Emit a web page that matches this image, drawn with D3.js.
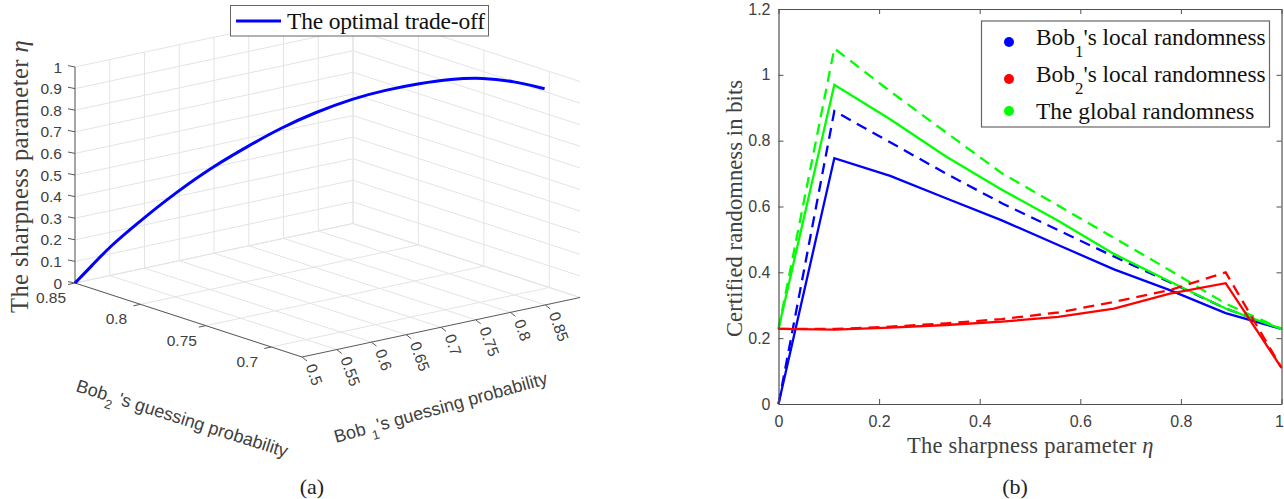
<!DOCTYPE html>
<html><head><meta charset="utf-8">
<script src="https://cdnjs.cloudflare.com/ajax/libs/d3/7.8.5/d3.min.js"></script>
<style>html,body{margin:0;padding:0;background:#fff}svg{display:block}</style>
</head><body><svg id="c" width="1284" height="499"></svg>
<script>
// Panel (a) data
const tradeEta=[0,0.064,0.133,0.242,0.348,0.451,0.547,0.627,0.709,0.788,0.838,0.883,0.926,0.972,0.99,1];
const tradeBob1=[0.5,0.5245,0.5494,0.5927,0.632,0.67,0.7047,0.729,0.755,0.78,0.801,0.8233,0.8363,0.8425,0.849,0.85];
const tradeBob2=[0.85,0.85,0.85,0.847,0.842,0.835,0.825,0.815,0.802,0.786,0.773,0.758,0.742,0.72,0.70,0.677];
const bob1Ticks=[0.5,0.55,0.6,0.65,0.7,0.75,0.8,0.85];
const bob2Ticks=[0.85,0.8,0.75,0.7];
const etaTicks=[0,0.1,0.2,0.3,0.4,0.5,0.6,0.7,0.8,0.9,1];
// Panel (b) data
const sharp=[0,0.111,0.222,0.333,0.444,0.556,0.667,0.778,0.889,1];
const bob1Solid=[0,0.747,0.693,0.625,0.558,0.483,0.409,0.346,0.276,0.228];
const bob1Dash=[0,0.89,0.795,0.70,0.61,0.528,0.448,0.37,0.29,0.228];
const bob2Solid=[0.228,0.226,0.232,0.24,0.25,0.265,0.29,0.335,0.367,0.11];
const bob2Dash=[0.228,0.228,0.235,0.245,0.258,0.278,0.31,0.346,0.40,0.11];
const globalSolid=[0.228,0.97,0.865,0.752,0.651,0.557,0.456,0.372,0.29,0.228];
const globalDash=[0.228,1.08,0.95,0.825,0.701,0.603,0.505,0.406,0.305,0.228];
const xTicksB=[0,0.2,0.4,0.6,0.8,1];
const yTicksB=[0,0.2,0.4,0.6,0.8,1,1.2];

const svg=d3.select('#c');
const SERIF='"Liberation Serif","Times New Roman",serif';
const SANS='"Liberation Sans",Arial,sans-serif';
const TXT='#404040';

// ---- Panel (a): oblique projection built from linear scales
const b1X=d3.scaleLinear().domain([0.5,0.9]).range([0,278]);
const b1Y=d3.scaleLinear().domain([0.5,0.9]).range([0,-59.5]);
const b2X=d3.scaleLinear().domain([0.85,0.6765]).range([0,227]);
const b2Y=d3.scaleLinear().domain([0.85,0.6765]).range([0,74]);
const zY=d3.scaleLinear().domain([0,1]).range([0,-216]);
const proj=(a,b,z)=>[75+b1X(a)+b2X(b),283+b1Y(a)+b2Y(b)+zY(z)];
const A0=0.5,A1=0.9,B0=0.85,B1=0.6765;
const g=svg.append('g');
const seg=(p,q,col,w)=>g.append('line').attr('x1',p[0]).attr('y1',p[1]).attr('x2',q[0]).attr('y2',q[1]).attr('stroke',col).attr('stroke-width',w||1);
const GRID='#e4e4e4';
etaTicks.forEach(z=>{seg(proj(A0,B0,z),proj(A1,B0,z),GRID);seg(proj(A1,B0,z),proj(A1,B1,z),GRID);});
bob1Ticks.concat([A1]).forEach(a=>{seg(proj(a,B0,0),proj(a,B1,0),GRID);if(a>A0)seg(proj(a,B0,0),proj(a,B0,1),GRID);});
bob2Ticks.forEach(b=>{seg(proj(A0,b,0),proj(A1,b,0),GRID);seg(proj(A1,b,0),proj(A1,b,1),GRID);});
const AX='#5a5a5a';
seg(proj(A0,B0,0),proj(A0,B0,1),'#808080',1.4);
seg(proj(A0,B0,0),proj(A0,B1,0),AX,1);
seg(proj(A0,B1,0),proj(A1,B1,0),AX,1);
etaTicks.forEach(z=>{const p=proj(A0,B0,z);seg(p,[p[0]-7,p[1]-1.4],AX,1);
  g.append('text').attr('x',62).attr('y',p[1]+5.5).attr('text-anchor','end').attr('font-family',SANS).attr('font-size',15.5).attr('fill',TXT).text(z);});
bob2Ticks.forEach(b=>{const p=proj(A0,b,0);seg(p,[p[0]-7,p[1]+1.5],AX,1);
  g.append('text').attr('x',p[0]-24).attr('y',p[1]+20).attr('text-anchor','middle').attr('font-family',SANS).attr('font-size',15.5).attr('fill',TXT).text(b);});
bob1Ticks.forEach(a=>{const p=proj(a,B1,0);seg(p,[p[0]+5,p[1]+4],AX,1);
  const t=[p[0]+8.5,p[1]+7.5];
  g.append('text').attr('transform',`translate(${t[0]},${t[1]}) rotate(70)`).attr('dy','0.35em').attr('font-family',SANS).attr('font-size',15.5).attr('fill',TXT).text(a);});
g.append('path').datum(tradeEta.map((e,i)=>proj(tradeBob1[i],tradeBob2[i],e)))
 .attr('d',d3.line().curve(d3.curveBasis)).attr('fill','none').attr('stroke','#0000ff').attr('stroke-width',3);

function sub(sel,base,s,rest,size,k){
  sel.append('tspan').text(base);
  sel.append('tspan').attr('dy',size*k).attr('font-size',size*0.72).text(s);
  sel.append('tspan').attr('dy',-size*k).text(rest);
}
const t2=g.append('text').attr('transform','translate(75,391) rotate(17.5)').attr('font-family',SANS).attr('font-size',18).attr('fill',TXT);
sub(t2,'Bob','2'," 's guessing probability",18,0.4);
const t1=g.append('text').attr('transform','translate(336,443) rotate(-15.6)').attr('font-family',SANS).attr('font-size',18).attr('fill',TXT);
sub(t1,'Bob ','1',"'s guessing probability",18,0.4);
const yl=g.append('text').attr('transform','translate(28,313) rotate(-90)').attr('font-family',SERIF).attr('font-size',24.5).attr('letter-spacing',0.45).attr('fill',TXT);
yl.append('tspan').text('The sharpness parameter ');
yl.append('tspan').attr('font-style','italic').text('η');

// legend (a)
g.append('rect').attr('x',230.5).attr('y',5.5).attr('width',258).attr('height',30.5).attr('fill','#fff').attr('stroke','#666');
g.append('line').attr('x1',236).attr('x2',281).attr('y1',21).attr('y2',21).attr('stroke','#0000ff').attr('stroke-width',3);
g.append('text').attr('x',287).attr('y',29).attr('font-family',SERIF).attr('font-size',23.5).attr('textLength',198).attr('lengthAdjust','spacing').attr('fill','#111').text('The optimal trade-off');

// ---- Panel (b)
const x=d3.scaleLinear().domain([0,1]).range([778.5,1281.5]);
const y=d3.scaleLinear().domain([0,1.2]).range([404,9]);
const h=svg.append('g');
const line=d3.line().x((d,i)=>x(sharp[i])).y(d=>y(d));
[[bob1Dash,'#0000ff',1],[bob1Solid,'#0000ff',0],[globalDash,'#00ff00',1],[globalSolid,'#00ff00',0],[bob2Dash,'#ff0000',1],[bob2Solid,'#ff0000',0]].forEach(([v,c,d])=>{
  h.append('path').datum(v).attr('d',line).attr('fill','none').attr('stroke',c).attr('stroke-width',2.3).attr('stroke-dasharray',d?'11,7':null);
});
function style(a){a.selectAll('path').attr('stroke','#505050').attr('stroke-width',1.2);a.selectAll('line').attr('stroke','#505050');
  a.selectAll('text').attr('font-family',SANS).attr('font-size',16).attr('fill',TXT);}
const xa=h.append('g').attr('transform','translate(0,404)').call(d3.axisBottom(x).tickValues(xTicksB).tickFormat(d3.format('~g')).tickSizeInner(-5).tickSizeOuter(0).tickPadding(12)).call(style);
xa.selectAll('.tick text').filter(d=>d===1).attr('text-anchor','end').attr('x',2);
h.append('g').attr('transform','translate(0,9)').call(d3.axisTop(x).tickValues(xTicksB).tickFormat('').tickSizeInner(-5).tickSizeOuter(0)).call(style);
h.append('g').attr('transform','translate(778.5,0)').call(d3.axisLeft(y).tickValues(yTicksB).tickFormat(d3.format('~g')).tickSizeInner(-5).tickSizeOuter(0).tickPadding(8)).call(style);
h.append('g').attr('transform','translate(1281.5,0)').call(d3.axisRight(y).tickValues(yTicksB).tickFormat('').tickSizeInner(-5).tickSizeOuter(0)).call(style);

h.append('text').attr('transform','translate(742,337) rotate(-90)').attr('font-family',SERIF).attr('font-size',22.5).attr('letter-spacing',0.1).attr('fill',TXT).text('Certified randomness in bits');
const xb=h.append('text').attr('x',907).attr('y',453).attr('font-family',SERIF).attr('font-size',22.5).attr('letter-spacing',0.25).attr('fill',TXT);
xb.append('tspan').text('The sharpness parameter ');
xb.append('tspan').attr('font-style','italic').text('η');

// legend (b)
h.append('rect').attr('x',981.5).attr('y',21).attr('width',288).attr('height',106).attr('fill','#fff').attr('stroke','#666').attr('stroke-width',1.2);
const legY=[45,82,119],legC=['#0000ff','#ff0000','#00ff00'],dotY=[42,79,111];
legC.forEach((c,i)=>h.append('circle').attr('cx',1009).attr('cy',dotY[i]).attr('r',5).attr('fill',c));
[['1'],['2']].forEach(([s],i)=>{
  const t=h.append('text').attr('x',1036).attr('y',legY[i]).attr('font-family',SERIF).attr('font-size',23.4).attr('fill','#111');
  sub(t,'Bob',s,"'s local randomness",23.4,0.5);
});
h.append('text').attr('x',1036).attr('y',legY[2]).attr('font-family',SERIF).attr('font-size',23.4).attr('fill','#111').text('The global randomness');

// captions
[['(a)',312],['(b)',1015]].forEach(([s,cx])=>svg.append('text').attr('x',cx).attr('y',494).attr('text-anchor','middle').attr('font-family',SERIF).attr('font-size',22).attr('fill','#222').text(s));
</script></body></html>
